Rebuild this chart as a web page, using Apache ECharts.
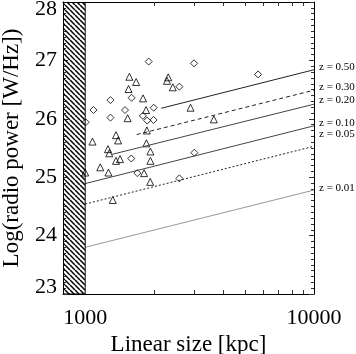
<!DOCTYPE html>
<html>
<head>
<meta charset="utf-8">
<script src="https://cdn.jsdelivr.net/npm/echarts@6/dist/echarts.min.js"></script>
<style>
  html, body { margin: 0; padding: 0; background: #fff; }
  #main { width: 356px; height: 354px; }
</style>
</head>
<body>
<div id="main"></div>
<script>
// excluded size range (hatched)
var hatchRange = [800, 1000];

// open diamonds [size kpc, log P]
var diamondPoints = [
  [1895, 26.98], [2990, 26.95], [5700, 26.76], [2580, 26.55], [1290, 26.32],
  [1595, 26.36], [1087, 26.15], [1493, 26.15], [1290, 26.02], [1993, 26.19],
  [1787, 26.05], [1866, 25.97], [1990, 25.98], [1005, 25.94], [1590, 25.32],
  [1690, 25.07], [2580, 24.98], [3000, 25.42]
];

// open triangles
var trianglePoints = [
  [1560, 26.72], [1670, 26.63], [1547, 26.51], [1790, 26.35], [1533, 26.01],
  [1846, 26.15], [2307, 26.71], [2278, 26.65], [2415, 26.54], [2887, 26.19],
  [3650, 25.99], [1860, 25.80], [1364, 25.72], [1076, 25.61], [1393, 25.63],
  [1852, 25.58], [1258, 25.48], [1274, 25.41], [1364, 25.28], [1420, 25.31],
  [1928, 25.44], [1928, 25.28], [1164, 25.17], [1264, 25.08], [1000, 25.08],
  [1809, 25.07], [1924, 24.92], [1320, 24.61]
];

// redshift limit lines
var zLabels = ['z = 0.50', 'z = 0.30', 'z = 0.20', 'z = 0.10', 'z = 0.05', 'z = 0.01'];
var zStartSize = [2148, 1679, 1307, 1000, 1000, 1000];
var zStartPower = [26.18, 25.73, 25.39, 24.89, 24.54, 23.80];
var zEndSize = 10000;
var zEndPower = [26.84, 26.49, 26.25, 25.88, 25.53, 24.78];

var xTickLabels = [1000, 10000];
var xMinorTicks = [2000, 3000, 4000, 5000, 6000, 7000, 8000, 9000];

var serif = 'Liberation Serif';
var yMin = 23, yMax = 28;

// line looks
var zLineType = ['solid', [4, 3], 'solid', 'solid', [2, 2], 'solid'];
var zLineColor = ['#222', '#222', '#444', '#444', '#222', '#999'];
var zLabelShift = [-3, -3, -4, -3, -12, -2];

// hatch pattern
var hatch = document.createElement('canvas');
hatch.width = 5;
hatch.height = 5;
var ctx = hatch.getContext('2d');
ctx.strokeStyle = '#000';
ctx.lineWidth = 1.5;
for (var k = -1; k <= 1; k++) {
  ctx.beginPath();
  ctx.moveTo(0, k * 5);
  ctx.lineTo(5, 5 + k * 5);
  ctx.stroke();
}

var chart = echarts.init(document.getElementById('main'));

var series = [];
series.push({
  type: 'custom',
  data: [[hatchRange[0], yMax, hatchRange[1], yMin]],
  encode: { x: [0, 2], y: [1, 3] },
  clip: true,
  z: 5,
  renderItem: function (params, api) {
    var p0 = api.coord([api.value(0), api.value(1)]);
    var p1 = api.coord([api.value(2), api.value(3)]);
    return {
      type: 'rect',
      shape: { x: p0[0], y: p0[1], width: p1[0] - p0[0], height: p1[1] - p0[1] },
      style: { fill: { image: hatch, repeat: 'repeat' }, stroke: '#000', lineWidth: 1 }
    };
  }
});

for (var i = 0; i < zLabels.length; i++) {
  series.push({
    type: 'line',
    name: zLabels[i],
    data: [[zStartSize[i], zStartPower[i]], [zEndSize, zEndPower[i]]],
    symbol: 'none',
    lineStyle: { color: zLineColor[i], width: 1, type: zLineType[i] },
    endLabel: {
      show: true,
      formatter: zLabels[i],
      color: '#000',
      fontFamily: serif,
      fontSize: 11,
      distance: 5,
      offset: [0, zLabelShift[i]]
    }
  });
}

series.push({
  type: 'scatter',
  data: diamondPoints,
  symbol: 'diamond',
  symbolSize: 7,
  itemStyle: { color: 'rgba(0,0,0,0)', borderColor: '#000', borderWidth: 1 }
});
series.push({
  type: 'scatter',
  data: trianglePoints,
  symbol: 'triangle',
  symbolSize: 7,
  itemStyle: { color: 'rgba(0,0,0,0)', borderColor: '#000', borderWidth: 1 }
});

var nameText = { fontFamily: serif, fontSize: 23, color: '#000' };

chart.setOption({
  animation: false,
  backgroundColor: '#fff',
  grid: { left: 63, right: 42, top: 2, bottom: 60, containLabel: false, outerBoundsMode: 'none' },
  xAxis: [
    {
      type: 'log', logBase: 10, min: 800, max: 10000, position: 'bottom',
      name: 'Linear size [kpc]', nameLocation: 'middle', nameGap: 36,
      nameTextStyle: nameText,
      axisLine: { lineStyle: { color: '#000', width: 1 } },
      axisTick: { inside: true, length: 4, customValues: xMinorTicks, lineStyle: { color: '#333' } },
      axisLabel: {
        customValues: xTickLabels, margin: 13,
        fontFamily: serif, fontSize: 22, color: '#000',
        formatter: function (v) { return String(v); }
      },
      splitLine: { show: false }
    },
    {
      type: 'log', logBase: 10, min: 800, max: 10000, position: 'top',
      axisLine: { lineStyle: { color: '#000', width: 1 } },
      axisTick: { inside: true, length: 4, customValues: xMinorTicks, lineStyle: { color: '#333' } },
      axisLabel: { show: false },
      splitLine: { show: false }
    }
  ],
  yAxis: [
    {
      type: 'value', min: yMin, max: yMax, interval: 1, position: 'left',
      name: 'Log(radio power [W/Hz])', nameLocation: 'middle', nameGap: 40,
      nameTextStyle: nameText,
      axisLine: { show: true, lineStyle: { color: '#000', width: 1 } },
      axisTick: { show: true, inside: true, length: 5, lineStyle: { color: '#333' } },
      minorTick: { show: true, splitNumber: 10, length: 3, lineStyle: { color: '#333' } },
      axisLabel: {
        margin: 6, fontFamily: serif, fontSize: 22, color: '#000', lineHeight: 14,
        verticalAlignMaxLabel: 'top', verticalAlignMinLabel: 'bottom'
      },
      splitLine: { show: false }
    },
    {
      type: 'value', min: yMin, max: yMax, interval: 1, position: 'right',
      axisLine: { show: true, lineStyle: { color: '#000', width: 1 } },
      axisTick: { show: true, inside: true, length: 5, lineStyle: { color: '#333' } },
      minorTick: { show: true, splitNumber: 10, length: 3, lineStyle: { color: '#333' } },
      axisLabel: { show: false },
      splitLine: { show: false }
    }
  ],
  series: series
});
</script>
</body>
</html>
